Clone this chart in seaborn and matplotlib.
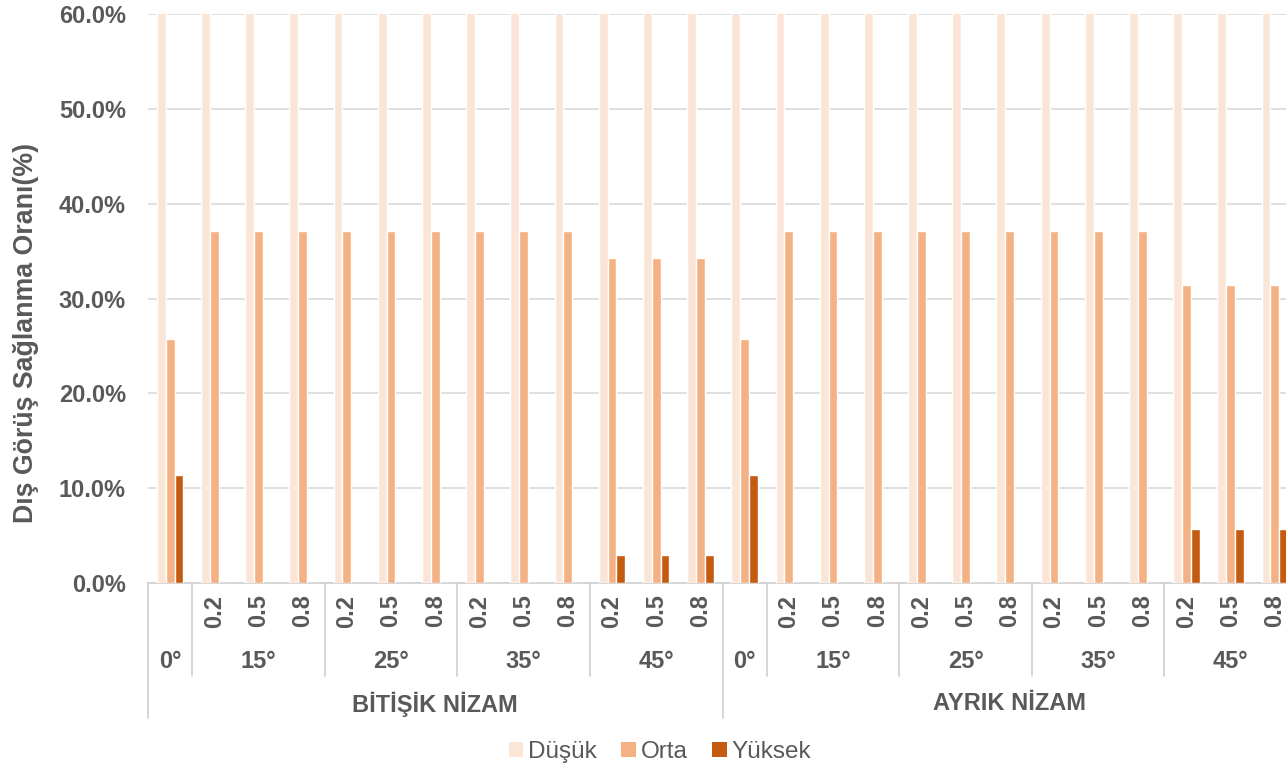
import matplotlib
matplotlib.use("Agg")
import matplotlib.pyplot as plt
import matplotlib.transforms as mtransforms
from matplotlib.patches import Patch
from matplotlib.ticker import FuncFormatter
import pandas as pd
import seaborn as sns

# Category levels (outer -> inner)
nizam = ["BİTİŞİK NİZAM"] * 13 + ["AYRIK NİZAM"] * 13
aci = (["0°"] + ["15°"] * 3 + ["25°"] * 3 + ["35°"] * 3 + ["45°"] * 3) * 2
oran = ([""] + ["0.2", "0.5", "0.8"] * 4) * 2

# Series values (%)
dusuk = [62.9] * 13 + [62.9] * 13
orta = [25.7] + [37.1] * 9 + [34.3] * 3 + [25.7] + [37.1] * 9 + [31.4] * 3
yuksek = [11.4] + [0.0] * 9 + [2.9] * 3 + [11.4] + [0.0] * 9 + [5.7] * 3

series_names = ["Düşük", "Orta", "Yüksek"]
series_colors = ["#FBE5D6", "#F4B183", "#C55A11"]

y_ticks = [0, 10, 20, 30, 40, 50, 60]
y_label = "Dış Görüş Sağlanma Oranı(%)"

sns.set_theme(style="white")
plt.rcParams["font.family"] = ["Liberation Sans", "DejaVu Sans"]
TXT = "#595959"
LINE = "#D0D0D0"
FS = 17

keys = [f"{a}|{b}|{c}|{i}" for i, (a, b, c) in enumerate(zip(nizam, aci, oran))]
df = pd.DataFrame({
    "kategori": keys * 3,
    "seri": sum([[s] * len(keys) for s in series_names], []),
    "deger": dusuk + orta + yuksek,
})

W, H = 1286, 770
fig = plt.figure(figsize=(W / 100, H / 100), dpi=100)
ax_left, ax_right, ax_top, ax_bottom = 148, 1297, 14, 583
ax = fig.add_axes([ax_left / W, 1 - ax_bottom / H, (ax_right - ax_left) / W, (ax_bottom - ax_top) / H])

sns.barplot(data=df, x="kategori", y="deger", hue="seri", order=keys,
            hue_order=series_names, palette=series_colors, saturation=1,
            width=0.6, errorbar=None, legend=False, ax=ax, zorder=3)

ax.set_xlim(-0.5, len(keys) - 0.5)
ax.set_ylim(y_ticks[0], y_ticks[-1])
ax.set_yticks(y_ticks)
ax.yaxis.set_major_formatter(FuncFormatter(lambda v, p: f"{v:.1f}%"))
ax.set_xticks([])
ax.set_xlabel("")
ax.set_ylabel("")
ax.grid(axis="y", color="#D9D9D9", lw=1.2, zorder=0)
ax.set_axisbelow(True)
for s in ["top", "right", "left"]:
    ax.spines[s].set_visible(False)
ax.spines["bottom"].set_color(LINE)
ax.spines["bottom"].set_linewidth(1.2)
ax.tick_params(axis="y", length=0, pad=16, labelsize=FS, labelcolor=TXT)
for t in ax.get_yticklabels():
    t.set_fontweight("bold")

# Multi-level category table under the plot
tr = mtransforms.blended_transform_factory(ax.transData, fig.transFigure)
fy = lambda px: 1 - px / H

n = len(keys)
# vertical separators
for i in range(n + 1):
    if i == 0 or i == n or nizam[i] != nizam[i - 1]:
        ax.plot([i - 0.5, i - 0.5], [fy(583), fy(718)], transform=tr, color=LINE,
                lw=1.2, clip_on=False)
    elif aci[i] != aci[i - 1]:
        ax.plot([i - 0.5, i - 0.5], [fy(583), fy(676)], transform=tr, color=LINE,
                lw=1.2, clip_on=False)

# inner labels
for i, lab in enumerate(oran):
    if lab:
        ax.text(i, fy(611), lab, transform=tr, rotation=90, ha="center", va="center",
                fontsize=FS, fontweight="bold", color=TXT)

def runs(levels, parent=None):
    out = []
    start = 0
    for i in range(1, len(levels) + 1):
        if i == len(levels) or levels[i] != levels[start] or (parent and parent[i] != parent[start]):
            out.append((levels[start], start, i - 1))
            start = i
    return out

for lab, a, b in runs(aci, nizam):
    ax.text((a + b) / 2, fy(661), lab, transform=tr, ha="center", va="center",
            fontsize=FS, fontweight="bold", color=TXT)
for lab, a, b in runs(nizam):
    ax.text((a + b) / 2, fy(704), lab, transform=tr, ha="center", va="center",
            fontsize=FS, fontweight="bold", color=TXT)

fig.text(26 / W, fy(333), y_label, rotation=90, ha="center", va="center",
         fontsize=19.3, fontweight="bold", color=TXT)

handles = [Patch(facecolor=c, edgecolor="none", label=s) for s, c in zip(series_names, series_colors)]
fig.legend(handles=handles, loc="center", bbox_to_anchor=(660 / W, fy(752)), ncol=3,
           frameon=False, fontsize=17.5, labelcolor=TXT, handlelength=0.6,
           handleheight=0.6, handletextpad=0.2, columnspacing=1.0)

fig.savefig("out.png", dpi=100)
